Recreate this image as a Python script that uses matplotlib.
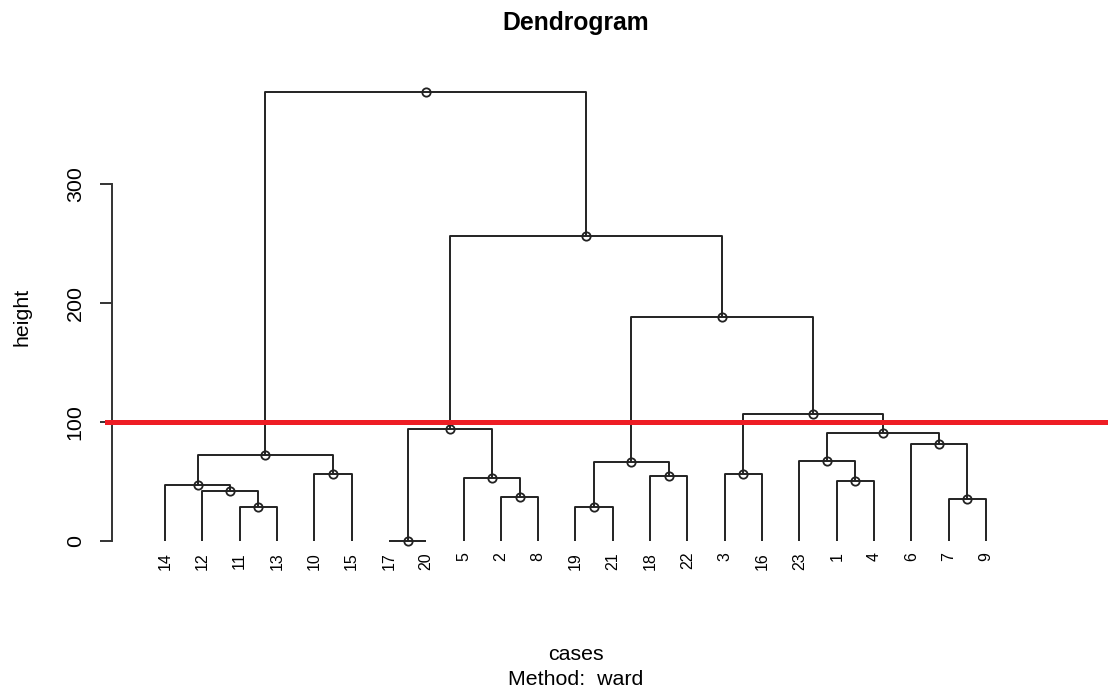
import matplotlib
matplotlib.use("Agg")
import matplotlib.pyplot as plt

plt.rcParams["font.family"] = ["Liberation Sans", "DejaVu Sans"]

# leaves in plotting order
leaf_labels = [14, 12, 11, 13, 10, 15, 17, 20, 5, 2, 8, 19, 21, 18, 22,
               3, 16, 23, 1, 4, 6, 7, 9]

# R-style merge table: negative = leaf label, positive = earlier merge (1-based)
merge_left = [-11, -12, -14, -10, 3, -17, -2, -5, 6, -19, -18, 10,
              -3, -1, -23, -7, -6, 15, 13, 12, 9, 5]
merge_right = [-13, 1, 2, -15, 4, -20, -8, 7, 8, -21, -22, 11,
               -16, -4, 14, -9, 16, 17, 18, 19, 20, 21]
merge_height = [28.6, 42.0, 47.1, 56.3, 72.3, 0.0, 37.0, 52.9, 94.1, 28.6,
                54.6, 66.4, 56.3, 50.4, 67.2, 35.3, 81.5, 90.8, 106.7,
                188.2, 256.3, 377.3]

cut_height = 100
y_ticks = [0, 100, 200, 300]

leaf_pos = {lab: i + 1 for i, lab in enumerate(leaf_labels)}

W, H = 1108, 690
fig = plt.figure(figsize=(W / 100, H / 100), dpi=100)
ax = fig.add_axes([112 / W, (H - 559) / H, (1039 - 112) / W, (559 - 74) / H])
ax.set_xlim(1 - 53 / 37.364, 23 + 53 / 37.364)
ax.set_ylim(-15.1, 392.4)

line_kw = dict(color="#222222", lw=1.4, solid_capstyle="butt")
node_x, node_h = [], []


def child_xy(idx):
    if idx < 0:
        return leaf_pos[-idx], 0.0
    return node_x[idx - 1], node_h[idx - 1]


for l, r, h in zip(merge_left, merge_right, merge_height):
    xl, hl = child_xy(l)
    xr, hr = child_xy(r)
    ax.plot([xl, xl, xr, xr], [hl, h, h, hr], **line_kw)
    node_x.append((xl + xr) / 2)
    node_h.append(h)

ax.plot(node_x, node_h, "o", ms=6, mfc="none", mec="#222222", mew=1.3, zorder=5)

ax.axhline(cut_height, xmin=-5 / 927, xmax=(1108 - 112) / 927,
           color="#EE1D24", lw=3.6, clip_on=False, zorder=6)

for lab in leaf_labels:
    ax.text(leaf_pos[lab], -9.2, str(lab), rotation=90, ha="center", va="top",
            fontsize=11.5)

for s in ["top", "right", "bottom"]:
    ax.spines[s].set_visible(False)
ax.spines["left"].set_bounds(0, 300)
ax.spines["left"].set_linewidth(1.4)
ax.spines["left"].set_color("#333333")
ax.set_xticks([])
ax.set_yticks(y_ticks)
ax.set_yticklabels([str(t) for t in y_ticks], rotation=90, va="center")
ax.tick_params(axis="y", length=8.6, width=1.4, color="#333333",
               labelsize=15.4, pad=11)

fig.text(575.5 / W, 1 - 30 / H, "Dendrogram", ha="center", va="baseline",
         fontsize=17.8, fontweight="bold")
fig.text(22 / W, 1 - 316.5 / H, "height", rotation=90, ha="center",
         va="center", fontsize=15.4)
fig.text(575.5 / W, 1 - 660 / H, "cases", ha="center", va="baseline",
         fontsize=15.4)
fig.text(575.5 / W, 1 - 685 / H, "Method:  ward", ha="center",
         va="baseline", fontsize=15.4)

fig.savefig("out.png", dpi=100)
